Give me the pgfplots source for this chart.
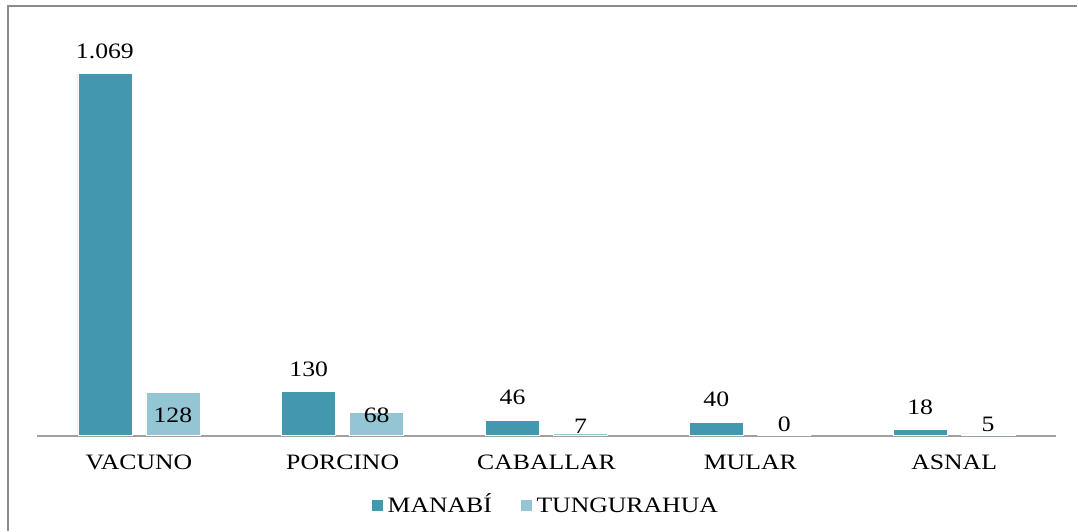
\documentclass[border=0pt]{standalone}
\usepackage{pgfplots}
\pgfplotsset{compat=1.18}
\usepackage{fontspec}
\setmainfont{Liberation Serif}[FakeStretch=1.17]
\definecolor{manabi}{RGB}{67,152,175}
\definecolor{tungu}{RGB}{147,197,213}
\definecolor{framegray}{RGB}{140,140,140}
\definecolor{axisgray}{RGB}{160,160,160}

\begin{document}
\begin{tikzpicture}
\fontsize{11}{13}\selectfont
% page size: 1078 x 531 px at 0.5pt per px
\path (0,0) rectangle (539pt,265.5pt);
\draw[framegray, line width=1pt] (4pt,0) -- (4pt,262.5pt) -- (539pt,262.5pt);
\begin{axis}[
  at={(18.5pt,47.5pt)}, anchor=south west,
  scale only axis, width=510pt, height=208pt,
  xmin=-0.5, xmax=4.5, ymin=0, ymax=1228,
  ybar=7pt, bar width=27pt,
  axis y line=none, axis x line=bottom,
  axis line style={axisgray, line width=1pt, -},
  xtick=data, xticklabels={VACUNO,PORCINO,CABALLAR,MULAR,ASNAL},
  major tick length=0pt,
  xticklabel style={font=\fontsize{11}{13}\selectfont, inner sep=0pt, anchor=north, yshift=-9.5pt},
  ytick=\empty,
  legend style={draw=none, at={(0.5,-0.168)}, anchor=center,
    legend columns=2, font=\fontsize{11}{13}\selectfont,
    nodes={text height=7.5pt, text depth=0pt},
    /tikz/every even column/.append style={column sep=12pt}},
  legend image code/.code={\fill[#1] (0pt,-3pt) rectangle (6pt,3pt);},
  nodes near coords,
  point meta=explicit symbolic,
  every node near coord/.append style={font=\fontsize{11}{13}\selectfont, text=black, inner sep=0pt},
]
\addplot[fill=manabi, draw=white, line width=0.3pt,
  every node near coord/.append style={anchor=south, yshift=7.5pt}]
  coordinates {(0,1069)[1.069] (1,130)[130] (2,46)[46] (3,40)[40] (4,18)[18]};
\addlegendentry{MANABÍ}
\addplot[fill=tungu, draw=white, line width=0.3pt, nodes near coords=\relax]
  coordinates {(0,128) (1,68) (2,7) (3,0) (4,5)};
\addlegendentry{TUNGURAHUA}
% label positions of the second series, as placed in the source chart
\addplot[forget plot, draw=none, fill=none, bar shift=17pt,
  every node near coord/.append style={anchor=center, yshift=0pt}]
  coordinates {(0,59)[128] (1,59)[68] (2,27)[7] (3,32)[0] (4,32)[5]};
\end{axis}
\end{tikzpicture}
\end{document}
